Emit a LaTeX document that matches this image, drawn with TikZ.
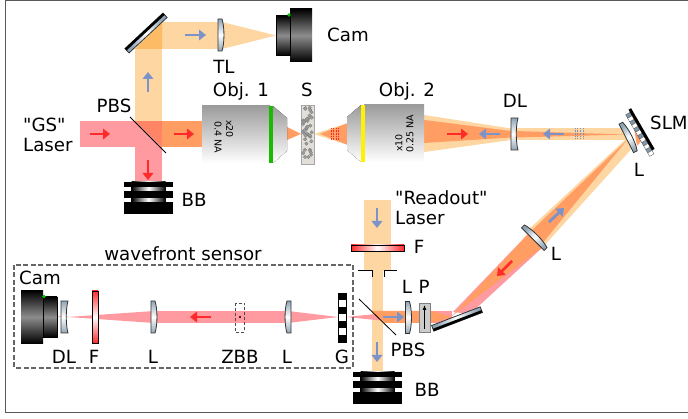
\documentclass[tikz,border=0pt]{standalone}
\usepackage{fontspec}
\setmainfont[Ligatures=TeXOff]{DejaVu Sans}
\usetikzlibrary{arrows.meta}
\definecolor{palebeam}{HTML}{FED6A1}
\definecolor{redbeam}{HTML}{FF9AA0}
\definecolor{darkbeam}{HTML}{FF9D63}
\definecolor{overlapbeam}{HTML}{FF8566}
\definecolor{cornerbeam}{HTML}{FDBB66}
\definecolor{lensblue}{HTML}{8FA5B5}
\definecolor{arrowblue}{HTML}{7B93C8}
\definecolor{arrowred}{HTML}{FF2A2A}
\definecolor{objdark}{HTML}{6A6A6A}
\definecolor{objlight}{HTML}{D8D8D8}
\definecolor{sandgray}{HTML}{E2DFD9}
\definecolor{pixblue}{HTML}{7F96AB}
\pgfdeclareverticalshading{objshade}{100bp}{color(0bp)=(objlight); color(25bp)=(white); color(100bp)=(objdark)}
\tikzset{
lbl/.style={font=\fontsize{18.2}{20}\selectfont,inner sep=0pt},
tiny/.style={font=\fontsize{9.5}{10}\selectfont,inner sep=0pt},
pblue/.style={draw=arrowblue,line width=2.8pt,-{Triangle[length=7pt,width=10.5pt]}},
pred/.style={draw=arrowred,line width=2.8pt,-{Triangle[length=7pt,width=10.5pt]}},
optic/.style={draw=black!80,line width=.8pt},
wave/.style={line width=.6pt,densely dotted}
}
\newcommand{\lensconvex}[3]{\begin{scope}[shift={(#1,#2)},rotate=#3]
\draw[optic,top color=lensblue,bottom color=lensblue,middle color=white,shading angle=#3](-3,-16)--(-3,16)--(1,16)..controls(3.6,8)and(3.6,-8)..(1,-16)--cycle;
\end{scope}}
\newcommand{\lensconcave}[3]{\begin{scope}[shift={(#1,#2)},rotate=#3]
\draw[optic,top color=lensblue,bottom color=lensblue,middle color=white,shading angle=#3](-3.5,-16)--(-3.5,16)--(3.5,16)..controls(1.2,8)and(1.2,-8)..(3.5,-16)--cycle;
\end{scope}}
\newcommand{\mirrorbar}[3]{\begin{scope}[shift={(#1,#2)},rotate=#3]
\draw[optic,left color=lensblue,right color=lensblue,middle color=white,shading angle=90+#3](-26,-3)rectangle(26,3);
\fill[black](-26,-3)rectangle(26,-.5);
\end{scope}}
\newcommand{\dumpblock}[2]{\begin{scope}[shift={(#1,#2)}]
\fill[left color=black,right color=black,middle color=white](-17,0)rectangle(17,32);
\fill[black](-24.5,0)rectangle(24.5,5);
\fill[black](-24.5,9.5)rectangle(24.5,16);
\fill[black](-24.5,20)rectangle(24.5,32);
\end{scope}}
\newcommand{\camblock}[3]{\begin{scope}[shift={(#1,#2)},xscale=#3]
\fill[top color=black,bottom color=black,middle color=black!45](-14,-20)rectangle(0,20);
\fill[top color=black,bottom color=black,middle color=black!45](0,-26.5)rectangle(22,26.5);
\draw[black,line width=.8pt](-14,-20)rectangle(0,20);
\fill[green!75!black](-1,-20.5)circle(1.8);
\end{scope}}
\begin{document}
\begin{tikzpicture}[x=1pt,y=-1pt]
\useasboundingbox(0,0)rectangle(688,419);
\draw[black!65,line width=1pt](688,.5)--(5,.5)--(5,412.5)--(688,412.5);
\fill[palebeam](135,49)--(135,121)--(162,121)--(162,49)--cycle;
\fill[palebeam](162,22)rectangle(220,49);
\fill[cornerbeam](135,49)--(162,49)--(162,22)--cycle;
\fill[palebeam](222,22)--(222,49)--(276,35.5)--cycle;
\fill[redbeam](80,121)rectangle(135,147);
\fill[redbeam](135,147)rectangle(162,183);
\fill[overlapbeam](135,121)rectangle(162,147);
\fill[redbeam](135,121)--(135,147)--(162,147)--cycle;
\fill[darkbeam](162,121)rectangle(203,147);
\fill[darkbeam](287,127)--(287,140)--(301,134)--cycle;
\fill[palebeam](314,134)--(348,123)--(348,145)--cycle;
\fill[darkbeam](320,134)--(348,123)--(348,145)--cycle;
\fill[palebeam](424,115)--(424,152)--(511,140)--(511,128.5)--cycle;
\fill[darkbeam](424,120)--(424,143)--(511,137.5)--(511,131)--cycle;
\fill[palebeam](515,128.5)rectangle(626,140);
\fill[darkbeam](515,131)--(515,137.5)--(626,134.5)--cycle;
\fill[palebeam](627,138)--(635,145)--(543,247)--(527,231)--cycle;
\fill[darkbeam](627,140)--(541,245)--(529,233)--cycle;
\fill[darkbeam](634,128)--(638,130)--(642,140)--(637,146)--cycle;
\fill[redbeam](529,233)--(543,247)--(470,314)--(453,312)--cycle;
\fill[darkbeam](529,233)--(543,247)--(452,316)--cycle;
\fill[palebeam](364,200)rectangle(391,271);
\fill[palebeam](372,271)rectangle(383,372);
\fill[redbeam](346,317)--(405,311)--(405,323)--cycle;
\fill[redbeam](430,311)rectangle(452,323);
\fill[darkbeam](371,311)--(432,311)--(432,323)--(384,323)--cycle;
\fill[darkbeam](432,311)--(452,317)--(432,323)--cycle;
\fill[redbeam](154,311)rectangle(288,323);
\fill[redbeam](154,311)--(154,323)--(68,317)--cycle;
\fill[redbeam](288,311)--(288,323)--(338,317)--cycle;
\fill[redbeam!60](57,316.5)rectangle(68,317.5);
\draw[pblue](185,35)--(206,35);
\draw[pblue](148,92)--(148,72);
\draw[pred](90,134)--(110,134);
\draw[pred](174,134)--(194,134);
\draw[pred](148,160)--(148,180);
\draw[pred](447,134)--(468,134);
\draw[pblue](500,134)--(479,134);
\draw[pblue](564,134)--(543,134);
\draw[pblue](549,222)--(564,208);
\draw[pred](512,261)--(497,276);
\draw[pblue](377,208)--(377,228);
\draw[pblue](377,342)--(377,362);
\draw[pblue](383,317)--(404,317);
\draw[pred](211,317)--(190,317);
\foreach \wx in {331,333.5,336,338.5}{\draw[wave,arrowred](\wx,128)--(\wx,140);}
\foreach \wx in {575,577.7,580.4,583}{\draw[wave,arrowblue](\wx,128)--(\wx,139);}
\draw[black,line width=.8pt](130,117)--(166,153);
\draw[black,line width=.8pt](359,299)--(396,335);
\mirrorbar{146}{33}{43}
\mirrorbar{457}{319}{201}
\lensconvex{221}{35}{0}
\lensconcave{514.5}{134}{0}
\lensconvex{629}{137}{27}
\lensconvex{535}{237}{45}
\lensconvex{408.5}{317.5}{0}
\lensconvex{154}{317}{0}
\lensconvex{288}{317}{180}
\lensconcave{64.5}{317}{0}
\camblock{290}{35.5}{1}
\camblock{43}{317}{-1}
\dumpblock{148.5}{182}
\dumpblock{377.5}{372}
\fill[shading=objshade](202,106)rectangle(270,163);
\fill[shading=objshade](273,106)--(287,118)--(287,151)--(273,163)--cycle;
\fill[green!70!black!90!yellow](269,106)rectangle(273,163);
\node[tiny,rotate=-90](mag1)at(229.5,129){x20};
\node[tiny,rotate=-90](na1)at(218,137){0.4 NA};
\fill[shading=objshade](364,105)rectangle(424,162);
\fill[shading=objshade](361,105)--(347,117)--(347,150)--(361,162)--cycle;
\fill[yellow](360.5,105)rectangle(364.5,162);
\node[tiny,rotate=90](mag2)at(399,143){x10};
\node[tiny,rotate=90](na2)at(410,134){0.25 NA};
\draw[black!35,fill=sandgray,line width=.6pt](301,105)rectangle(314,164);
\pgfmathsetseed{23}
\foreach \i in {1,...,38}{
\pgfmathsetmacro{\sx}{307.5+4.6*rand}
\pgfmathsetmacro{\sy}{134.5+27*rand}
\fill[black!38,draw=black!55,line width=.2pt](\sx,\sy)circle(1.8);
}
\begin{scope}[shift={(640.5,130.5)},rotate=30]
\foreach \i in {0,2,...,10}{\fill[pixblue,draw=black!70,line width=.3pt](-5,-21+4*\i)rectangle(0,-17+4*\i);}
\foreach \i in {1,3,...,11}{\fill[white,draw=black!70,line width=.3pt](-5,-21+4*\i)rectangle(0,-17+4*\i);}
\fill[black](0,-24)rectangle(3,23);
\end{scope}
\draw[black,line width=.6pt,left color=arrowred,right color=arrowred,middle color=white](351,245)rectangle(404,251);
\draw[black,line width=.6pt,top color=arrowred,bottom color=arrowred,middle color=white](92,291)rectangle(98,343);
\draw[black,line width=1pt](358,271)--(372,271)--(372,277);
\draw[black,line width=1pt](397,271)--(384,271)--(384,277);
\draw[black!50,fill=black!20,line width=.8pt](419,303)rectangle(430,332);
\draw[black,line width=.8pt,-{Latex[length=5pt,width=4pt]}](424.5,329)--(424.5,305);
\draw[black!70,densely dashed,line width=.4pt](235,303)rectangle(244.5,332);
\fill[black](240,317)circle(1.2);
\foreach \i in {0,2,4,6}{\fill[black](338,293+7*\i)rectangle(346,300+7*\i);}
\foreach \i in {1,3,5}{\fill[white](338,293+7*\i)rectangle(346,300+7*\i);}
\draw[black,line width=.5pt](338,293)rectangle(346,342);
\draw[black!60,dash pattern=on 5pt off 2.5pt,line width=1.2pt](14,265)rectangle(353,368);
\node[lbl,anchor=west](camtop)at(327,35){Cam};
\node[lbl](tllabel)at(224,67){TL};
\node[lbl](pbstop)at(114,106){PBS};
\node[lbl,anchor=west,align=left](gslaser)at(23,134.5){"GS"\\Laser};
\node[lbl](obj1)at(241,91){Obj. 1};
\node[lbl](samplelabel)at(307,90){S};
\node[lbl](obj2)at(407,91){Obj. 2};
\node[lbl](dltop)at(515,101){DL};
\node[lbl,anchor=west](slmlabel)at(650,123){SLM};
\node[lbl](lslm)at(639,170){L};
\node[lbl](ldiag)at(556,254){L};
\node[lbl](bbtop)at(194,200){BB};
\node[lbl,anchor=west,align=left](readout)at(395,208){"Readout"\\Laser};
\node[lbl](ftop)at(419,247){F};
\node[lbl](lbot)at(407,287){L};
\node[lbl](plabel)at(424,287){P};
\node[lbl](pbsbot)at(408,350){PBS};
\node[lbl](bbbot)at(427,390){BB};
\node[lbl](glabel)at(342,357){G};
\node[lbl](wflabel)at(183,254){wavefront sensor};
\node[lbl](camlow)at(40,278){Cam};
\node[lbl](dllow)at(64,357){DL};
\node[lbl](flow)at(94,357){F};
\node[lbl](lone)at(153,357){L};
\node[lbl](zbblabel)at(240,357){ZBB};
\node[lbl](ltwo)at(287,357){L};
\end{tikzpicture}
\end{document}
